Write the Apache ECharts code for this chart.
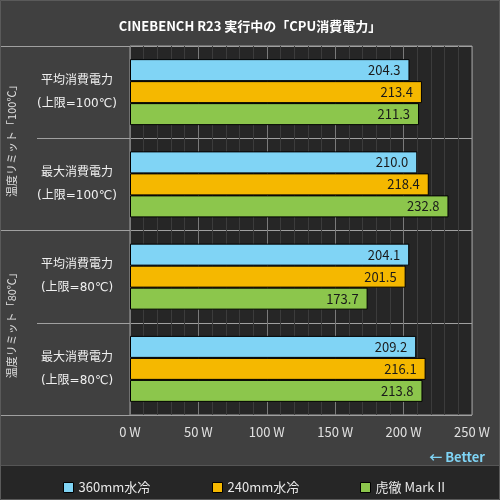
<!DOCTYPE html>
<html>
<head>
<meta charset="utf-8">
<script src="https://cdn.jsdelivr.net/npm/echarts@6/dist/echarts.min.js"></script>
<style>
html,body{margin:0;padding:0;background:#404040;}
#main{width:500px;height:500px;}
</style>
</head>
<body>
<div id="main"></div>
<script>
var categories = ['平均消費電力\n(上限=100℃)', '最大消費電力\n(上限=100℃)', '平均消費電力\n(上限=80℃)', '最大消費電力\n(上限=80℃)'];
var groups = ['温度リミット「100℃」', '温度リミット「80℃」'];
var seriesNames = ['360mm水冷', '240mm水冷', '虎徹 Mark II'];
var water360 = [204.3, 210.0, 204.1, 209.2];
var water240 = [213.4, 218.4, 201.5, 216.1];
var kotetsu = [211.3, 232.8, 173.7, 213.8];

var FONT = '"Noto Sans CJK JP", "Noto Sans", sans-serif';
var WIDE = '"DejaVu Sans", "Noto Sans CJK JP", sans-serif';
var colors = ['#80d4f5', '#f5b800', '#8cc64c'];
var datasets = [water360, water240, kotetsu];
var legendLefts = [58, 207, 355];

var chart = echarts.init(document.getElementById('main'), null, {renderer: 'canvas'});

var series = datasets.map(function (d, i) {
  return {
    name: seriesNames[i],
    type: 'bar',
    data: d,
    barWidth: 22,
    barGap: '0%',
    itemStyle: {color: colors[i], borderColor: '#000', borderWidth: 1},
    label: {
      show: true,
      position: 'insideRight',
      distance: 9,
      color: '#1a1a1a',
      fontFamily: FONT,
      fontSize: 13,
      formatter: function (p) { return p.value.toFixed(1); }
    },
    z: 3
  };
});

var legends = seriesNames.map(function (n, i) {
  return {
    left: legendLefts[i],
    top: 476,
    itemWidth: 10,
    itemHeight: 10,
    icon: 'rect',
    data: [n],
    itemStyle: {borderColor: '#000', borderWidth: 1},
    textStyle: {color: '#e8e8e8', fontFamily: FONT, fontSize: 13}
  };
});

var option = {
  backgroundColor: '#404040',
  animation: false,
  title: [
    {
      text: 'CINEBENCH R23 実行中の「CPU消費電力」',
      left: 'center',
      top: 15,
      textStyle: {color: '#ffffff', fontFamily: FONT, fontSize: 13, fontWeight: 'bold'}
    },
    {
      text: '← Better',
      right: 10,
      top: 446,
      textStyle: {color: '#7fd4f5', fontFamily: FONT, fontSize: 13, fontWeight: 'bold'}
    }
  ],
  graphic: [
    {type: 'rect', shape: {x: 0, y: 466, width: 500, height: 34}, style: {fill: '#262626'}, z: -1, silent: true},
    {type: 'line', shape: {x1: 0, y1: 465.5, x2: 500, y2: 465.5}, style: {stroke: '#555555', lineWidth: 1}, z: -1, silent: true},
    {type: 'rect', shape: {x: 0.5, y: 0.5, width: 499, height: 499}, style: {fill: 'none', stroke: '#5a5a5a', lineWidth: 1}, z: 10, silent: true}
  ],
  legend: legends,
  grid: {
    left: 130, right: 28, top: 46, bottom: 85,
    show: true,
    backgroundColor: '#262626',
    borderColor: '#a0a0a0',
    borderWidth: 1
  },
  xAxis: {
    type: 'value',
    min: 0,
    max: 250,
    interval: 50,
    axisLine: {show: false},
    axisTick: {show: false},
    axisLabel: {
      color: '#e0e0e0', fontFamily: FONT, fontSize: 13, margin: 11,
      formatter: function (v) { return v + ' W'; }
    },
    splitLine: {show: true, lineStyle: {color: '#7a7a7a', width: 1}},
    minorTick: {show: false, splitNumber: 5},
    minorSplitLine: {show: true, lineStyle: {color: '#3c3c3c', width: 1}}
  },
  yAxis: [
    {
      type: 'category',
      data: categories,
      inverse: true,
      axisLine: {show: false},
      axisTick: {show: true, length: 93, alignWithLabel: false, lineStyle: {color: '#a0a0a0'}},
      splitLine: {show: true, lineStyle: {color: '#a0a0a0', width: 1}},
      axisLabel: {
        color: '#f0f0f0', fontFamily: WIDE, fontSize: 12, lineHeight: 23,
        align: 'center', margin: 53, padding: [3, 0, 0, 0]
      }
    },
    {
      type: 'category',
      data: groups,
      inverse: true,
      position: 'left',
      axisLine: {show: false},
      axisTick: {show: true, length: 130, alignWithLabel: false, lineStyle: {color: '#a0a0a0'}},
      splitLine: {show: false},
      axisLabel: {
        color: '#e0e0e0', fontFamily: FONT, fontSize: 11,
        rotate: 90, margin: 113
      }
    }
  ],
  series: series
};
chart.setOption(option);
</script>
</body>
</html>
